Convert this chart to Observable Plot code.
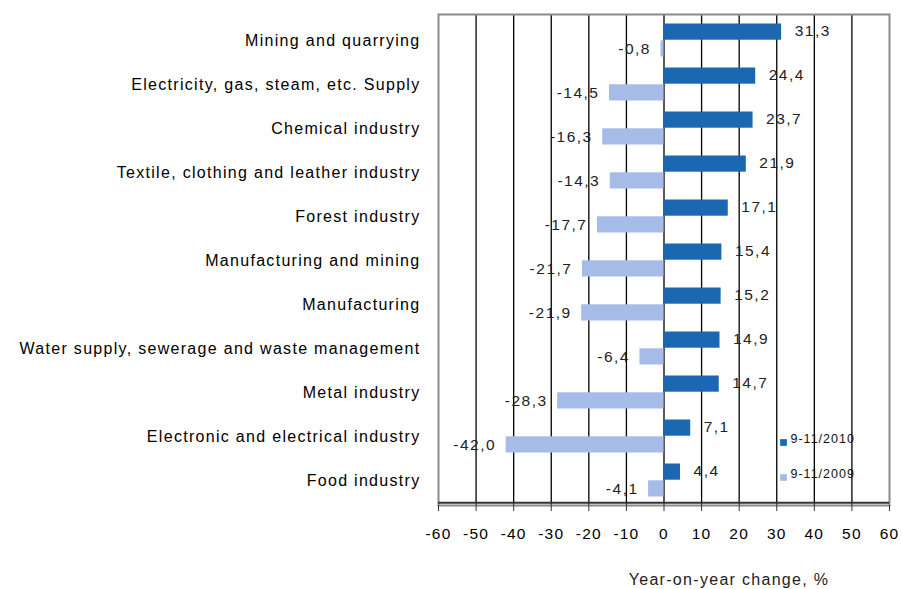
<!DOCTYPE html>
<html>
<head>
<meta charset="utf-8">
<script src="https://cdn.jsdelivr.net/npm/d3@7"></script>
<script src="https://cdn.jsdelivr.net/npm/@observablehq/plot@0.6"></script>
<style>
  html, body { margin: 0; padding: 0; background: #fff; }
  #chart svg { display: block; font-family: "Liberation Sans", Arial, sans-serif; }
  #chart svg g[aria-label="y-axis tick label"] text { letter-spacing: 1.3px; }
  #chart svg g[aria-label="x-axis tick label"] text { letter-spacing: 1.2px; }
  #chart svg g.vals text { letter-spacing: 1.5px; }
  #chart svg g.legend text { letter-spacing: 1px; }
  #chart svg g.title text { letter-spacing: 1.3px; }
</style>
</head>
<body>
<div id="chart"></div>
<script>
const categories = [
  "Mining and quarrying",
  "Electricity, gas, steam, etc. Supply",
  "Chemical industry",
  "Textile, clothing and leather industry",
  "Forest industry",
  "Manufacturing and mining",
  "Manufacturing",
  "Water supply, sewerage and waste management",
  "Metal industry",
  "Electronic and electrical industry",
  "Food industry"
];
const values2010 = [31.3, 24.4, 23.7, 21.9, 17.1, 15.4, 15.2, 14.9, 14.7, 7.1, 4.4];
const values2009 = [-0.8, -14.5, -16.3, -14.3, -17.7, -21.7, -21.9, -6.4, -28.3, -42.0, -4.1];
const seriesNames = ["9-11/2010", "9-11/2009"];
const seriesColors = ["#1B67B1", "#A6BCE8"];
const xTicks = [-60, -50, -40, -30, -20, -10, 0, 10, 20, 30, 40, 50, 60];
const gridTicks = [-50, -40, -30, -20, -10, 0, 10, 20, 30, 40, 50];
const axisTitle = "Year-on-year change, %";

const d2010 = categories.map((c, i) => ({category: c, value: values2010[i]}));
const d2009 = categories.map((c, i) => ({category: c, value: values2009[i]}));
const fmt = v => v.toFixed(1).replace(".", ",");
const labelFont = {fontSize: 15.5, fill: "#222", className: "vals"};

const chart = Plot.plot({
  width: 902,
  height: 589,
  marginLeft: 438,
  marginRight: 13,
  marginTop: 14,
  marginBottom: 84,
  style: {fontFamily: "Liberation Sans, Arial, sans-serif", background: "#fff"},
  x: {domain: [-60, 60], ticks: xTicks, tickFormat: d => String(d)},
  y: {domain: categories, padding: 0},
  marks: [
    Plot.gridX(gridTicks, {stroke: "#000", strokeOpacity: 1, strokeWidth: 1.3}),
    Plot.frame({stroke: "#8a8a8a", strokeWidth: 2}),
    Plot.barX(d2010, {x: "value", y: "category", fill: seriesColors[0], insetTop: 5.5, insetBottom: 22.3}),
    Plot.barX(d2009, {x: "value", y: "category", fill: seriesColors[1], insetTop: 22.3, insetBottom: 5.5}),
    Plot.text(d2010, {x: "value", y: "category", text: d => fmt(d.value), textAnchor: "start", dx: 13, dy: -9, ...labelFont}),
    Plot.text(d2009, {x: "value", y: "category", text: d => fmt(d.value), textAnchor: "end", dx: -10, dy: 9, ...labelFont}),
    Plot.ruleY([categories[categories.length - 1]], {dy: 22.3, stroke: "#333", strokeWidth: 2}),
    Plot.axisX({ticks: xTicks, tickSize: 6, tickPadding: 16, fontSize: 15.5, label: null, tickFormat: d => String(d), stroke: "#333"}),
    Plot.axisY({tickSize: 0, tickPadding: 18, fontSize: 16, label: null}),
    Plot.text([axisTitle], {frameAnchor: "bottom", dx: 65, dy: 79, fontSize: 16, fill: "#222", className: "title"}),
    Plot.dot([0], {frameAnchor: "bottom-right", dx: -106, dy: -63, symbol: "square", r: 3.8, fill: seriesColors[0]}),
    Plot.dot([1], {frameAnchor: "bottom-right", dx: -106, dy: -28, symbol: "square", r: 3.8, fill: seriesColors[1]}),
    Plot.text([seriesNames[0]], {frameAnchor: "bottom-right", dx: -99, dy: -63, textAnchor: "start", fontSize: 12.5, fill: "#111", className: "legend"}),
    Plot.text([seriesNames[1]], {frameAnchor: "bottom-right", dx: -99, dy: -28, textAnchor: "start", fontSize: 12.5, fill: "#111", className: "legend"})
  ]
});
document.getElementById("chart").append(chart);
</script>
</body>
</html>
